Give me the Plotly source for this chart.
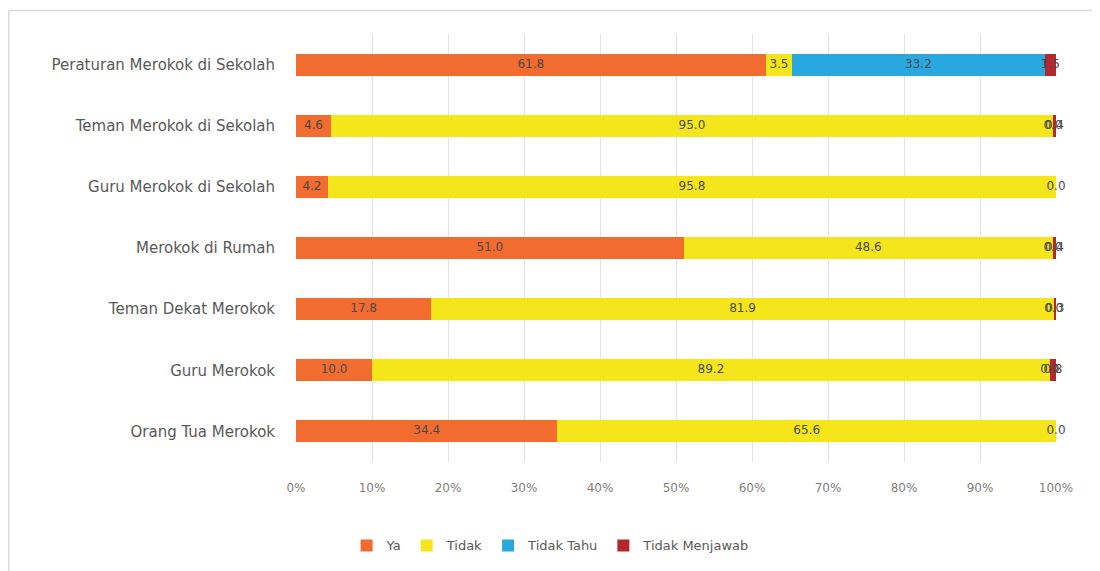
import plotly.graph_objects as go

categories = ["Peraturan Merokok di Sekolah", "Teman Merokok di Sekolah", "Guru Merokok di Sekolah",
              "Merokok di Rumah", "Teman Dekat Merokok", "Guru Merokok", "Orang Tua Merokok"]
ya = [61.8, 4.6, 4.2, 51.0, 17.8, 10.0, 34.4]
tidak = [3.5, 95.0, 95.8, 48.6, 81.9, 89.2, 65.6]
tidak_tahu = [33.2, 0.0, None, 0.0, 0.0, 0.0, None]
tidak_menjawab = [1.5, 0.4, 0.0, 0.4, 0.3, 0.8, 0.0]

series = [("Ya", ya, "#F26B2F"), ("Tidak", tidak, "#F5E51B"),
          ("Tidak Tahu", tidak_tahu, "#29A8E0"), ("Tidak Menjawab", tidak_menjawab, "#B3272D")]

# reverse so first category at top
cats_r = categories[::-1]
fig = go.Figure()
cum = [0.0] * len(categories)
label_x, label_y, label_t = [], [], []
for name, vals, color in series:
    v = [x if x is not None else 0.0 for x in vals][::-1]
    raw = vals[::-1]
    fig.add_trace(go.Bar(
        y=cats_r, x=v, name=name, orientation="h",
        marker=dict(color=color, line=dict(width=0)),
        hoverinfo="x+name"))
    for i, (val, r) in enumerate(zip(v, raw)):
        if r is not None:
            label_x.append(cum[i] + val / 2)
            label_y.append(cats_r[i])
            label_t.append(f"{r:.1f}")
        cum[i] += val

fig.add_trace(go.Scatter(
    x=label_x, y=label_y, text=label_t, mode="text", showlegend=False,
    cliponaxis=False,
    textfont=dict(family="DejaVu Sans", size=12, color="#4A4A4A"), hoverinfo="skip"))

fig.update_layout(
    barmode="stack", bargap=0.64,
    width=1100, height=571,
    margin=dict(l=288, r=52, t=26, b=117),
    paper_bgcolor="white", plot_bgcolor="white",
    font=dict(family="DejaVu Sans", color="#595959"),
    legend=dict(orientation="h", x=0.335, xanchor="center", y=-0.195, yanchor="middle",
                font=dict(size=13, color="#595959"), traceorder="normal",
                itemwidth=30),
    showlegend=True,
)
fig.update_xaxes(range=[0, 100], tickvals=list(range(0, 101, 10)),
                 ticktext=[f"{t}%" for t in range(0, 101, 10)],
                 showgrid=True, gridcolor="#E3E3E3", gridwidth=1, zeroline=False,
                 showline=False, ticks="", ticklabelstandoff=17,
                 tickfont=dict(size=12, color="#7F7F7F"))
fig.update_yaxes(categoryorder="array", categoryarray=cats_r, showgrid=False,
                 showline=False, ticks="", ticklabelstandoff=20,
                 tickfont=dict(size=15, color="#595959"))

# outer frame (top and left edges visible)
fig.add_shape(type="line", xref="paper", yref="paper", x0=-0.378, x1=1.1, y0=1.055, y1=1.055,
              line=dict(color="#D9D9D9", width=1.5))
fig.add_shape(type="line", xref="paper", yref="paper", x0=-0.378, x1=-0.378, y0=1.055, y1=-0.3,
              line=dict(color="#D9D9D9", width=1.5))

fig.write_html("out.html")
